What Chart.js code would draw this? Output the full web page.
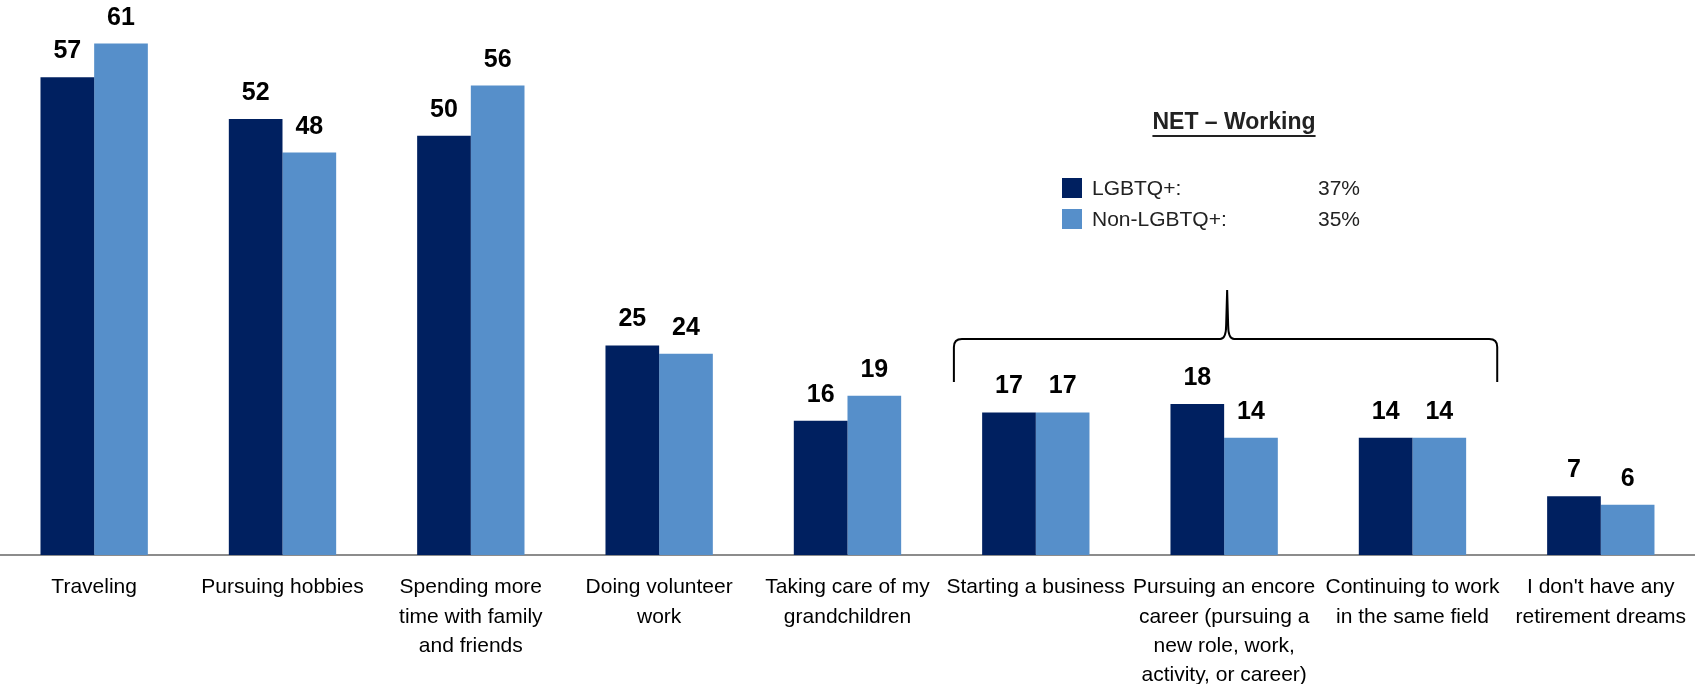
<!DOCTYPE html>
<html>
<head>
<meta charset="utf-8">
<script src="https://cdn.jsdelivr.net/npm/chart.js@4/dist/chart.umd.min.js"></script>
<style>
  html, body { margin: 0; padding: 0; background: #fff; }
  #wrap { width: 1696px; height: 684px; }
</style>
</head>
<body>
<div id="wrap"><canvas id="dreamsChart" width="1696" height="684"></canvas></div>
<script>
// Retirement dreams, % of respondents
const categories = [
    ["Traveling"],
    ["Pursuing hobbies"],
    ["Spending more", "time with family", "and friends"],
    ["Doing volunteer", "work"],
    ["Taking care of my", "grandchildren"],
    ["Starting a business"],
    ["Pursuing an encore", "career (pursuing a", "new role, work,", "activity, or career)"],
    ["Continuing to work", "in the same field"],
    ["I don't have any", "retirement dreams"],
];
const lgbtqValues = [57, 52, 50, 25, 16, 17, 18, 14, 7];
const nonLgbtqValues = [61, 48, 56, 24, 19, 17, 14, 14, 6];

const seriesNames = ["LGBTQ+:", "Non-LGBTQ+:"];
const netWorking = ["37%", "35%"];
const colors = ["#002060", "#568FCA"];

const FONT = "'Liberation Sans', Arial, sans-serif";

// value labels above each bar
const barLabels = {
    id: "barLabels",
    afterDatasetsDraw(chart) {
        const ctx = chart.ctx;
        ctx.save();
        ctx.font = "bold 25px " + FONT;
        ctx.fillStyle = "#000";
        ctx.textAlign = "center";
        ctx.textBaseline = "alphabetic";
        chart.data.datasets.forEach((ds, i) => {
            chart.getDatasetMeta(i).data.forEach((bar, j) => {
                ctx.fillText(ds.data[j], bar.x, bar.y - 19);
            });
        });
        ctx.restore();
    }
};

// "NET - Working" box with the curly bracket over the work-related items
const netBox = {
    id: "netBox",
    afterDraw(chart) {
        const ctx = chart.ctx;
        const x = chart.scales.x;
        const step = x.getPixelForValue(1) - x.getPixelForValue(0);
        const left = x.getPixelForValue(5) - step * 0.435;
        const right = x.getPixelForValue(7) + step * 0.45;
        const mid = x.getPixelForValue(6) + 3;
        const bottom = 382, line = 339, top = 290, r = 8;

        ctx.save();
        ctx.strokeStyle = "#000";
        ctx.lineWidth = 2;
        ctx.beginPath();
        ctx.moveTo(left, bottom);
        ctx.lineTo(left, line + r);
        ctx.quadraticCurveTo(left, line, left + r, line);
        ctx.lineTo(mid - 7, line);
        ctx.quadraticCurveTo(mid - 1, line, mid - 1, line - 14);
        ctx.lineTo(mid, top);
        ctx.lineTo(mid + 1, line - 14);
        ctx.quadraticCurveTo(mid + 1, line, mid + 7, line);
        ctx.lineTo(right - r, line);
        ctx.quadraticCurveTo(right, line, right, line + r);
        ctx.lineTo(right, bottom);
        ctx.stroke();

        // title
        ctx.fillStyle = "#222";
        ctx.font = "bold 23px " + FONT;
        ctx.textAlign = "center";
        ctx.textBaseline = "middle";
        const title = "NET \u2013 Working";
        const tx = 1234, ty = 123;
        ctx.fillText(title, tx, ty);
        const tw = ctx.measureText(title).width;
        ctx.fillRect(tx - tw / 2, ty + 12, tw, 2);

        // legend rows
        ctx.font = "21px " + FONT;
        ctx.textAlign = "left";
        seriesNames.forEach((name, i) => {
            const cy = 188 + i * 31;
            ctx.fillStyle = colors[i];
            ctx.fillRect(1062, cy - 10, 20, 20);
            ctx.fillStyle = "#222";
            ctx.fillText(name, 1092, cy + 1);
            ctx.fillText(netWorking[i], 1318, cy + 1);
        });
        ctx.restore();
    }
};

new Chart(document.getElementById("dreamsChart"), {
    type: "bar",
    data: {
        labels: categories,
        datasets: [
            { label: seriesNames[0], data: lgbtqValues, backgroundColor: colors[0] },
            { label: seriesNames[1], data: nonLgbtqValues, backgroundColor: colors[1] },
        ],
    },
    options: {
        responsive: false,
        animation: false,
        layout: { padding: 0 },
        datasets: { bar: { categoryPercentage: 0.57, barPercentage: 1 } },
        plugins: { legend: { display: false }, tooltip: { enabled: false } },
        scales: {
            x: {
                grid: { display: false },
                border: { display: true, color: "#8c8c8c", width: 2 },
                ticks: {
                    color: "#000",
                    font: { family: FONT, size: 21, lineHeight: 1.39 },
                    padding: 10,
                    autoSkip: false,
                    maxRotation: 0,
                    minRotation: 0,
                },
                afterFit(scale) { scale.height = 129; },
            },
            y: { display: false, min: 0, max: 66.2 },
        },
    },
    plugins: [barLabels, netBox],
});
</script>
</body>
</html>
